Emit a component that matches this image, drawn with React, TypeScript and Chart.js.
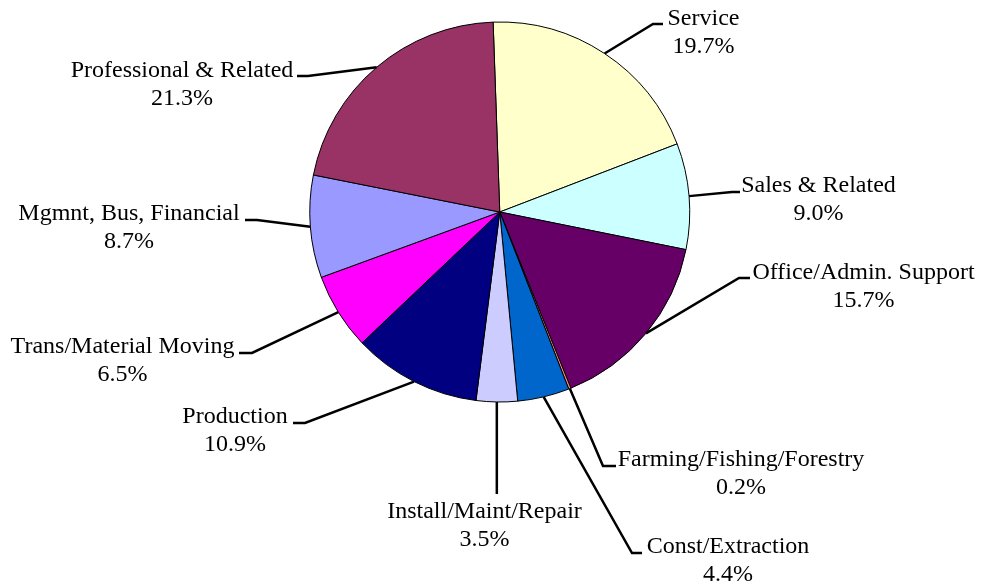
import React, { useEffect, useRef } from "react";
import { Chart, registerables } from "chart.js";

Chart.register(...registerables);

const categories = [
  "Service",
  "Sales & Related",
  "Office/Admin. Support",
  "Farming/Fishing/Forestry",
  "Const/Extraction",
  "Install/Maint/Repair",
  "Production",
  "Trans/Material Moving",
  "Mgmnt, Bus, Financial",
  "Professional & Related",
];
const shares = [19.7, 9.0, 15.7, 0.2, 4.4, 3.5, 10.9, 6.5, 8.7, 21.3];
const sliceColors = [
  "#FFFFCC",
  "#CCFFFF",
  "#660066",
  "#FF8080",
  "#0066CC",
  "#CCCCFF",
  "#000080",
  "#FF00FF",
  "#9999FF",
  "#993366",
];

// label placement (text centre x, first-line baseline, leader elbow)
type LabelPos = { cx: number; by: number; ly: number; ex: number | null; hx: number | null };
const labelPositions: LabelPos[] = [
  { cx: 703.5, by: 25, ly: 24, ex: 653, hx: 663 },
  { cx: 818.5, by: 192, ly: 192, ex: 732, hx: 740 },
  { cx: 863.5, by: 279, ly: 278, ex: 739, hx: 750 },
  { cx: 741, by: 466, ly: 466, ex: 603, hx: 616 },
  { cx: 728, by: 553, ly: 553, ex: 632, hx: 642 },
  { cx: 484.5, by: 518, ly: 494, ex: null, hx: null },
  { cx: 235, by: 423, ly: 423, ex: 305, hx: 293 },
  { cx: 122.5, by: 353, ly: 353, ex: 252, hx: 239 },
  { cx: 129, by: 220, ly: 220, ex: 257, hx: 245 },
  { cx: 182, by: 77, ly: 76, ex: 308, hx: 297 },
];

const FONT = '24px "Liberation Serif", "Times New Roman", serif';
const LINE_GAP = 27.5;

const labelPlugin = {
  id: "pieLabels",
  afterDatasetsDraw(chart: any) {
    const ctx = chart.ctx as CanvasRenderingContext2D;
    const meta = chart.getDatasetMeta(0);
    const data = chart.data.datasets[0].data as number[];
    ctx.save();
    meta.data.forEach((arc: any, i: number) => {
      const p = arc.getProps(["x", "y", "startAngle", "endAngle", "outerRadius"], true);
      const mid = (p.startAngle + p.endAngle) / 2;
      const sx = p.x + Math.cos(mid) * p.outerRadius;
      const sy = p.y + Math.sin(mid) * p.outerRadius;
      const lp = labelPositions[i];
      ctx.strokeStyle = "#000";
      ctx.lineWidth = 2.5;
      ctx.lineJoin = "miter";
      ctx.beginPath();
      ctx.moveTo(sx, sy);
      if (lp.ex === null) {
        ctx.lineTo(sx, lp.ly);
      } else {
        ctx.lineTo(lp.ex, lp.ly);
        ctx.lineTo(lp.hx as number, lp.ly);
      }
      ctx.stroke();
      ctx.fillStyle = "#000";
      ctx.font = FONT;
      ctx.textAlign = "center";
      ctx.textBaseline = "alphabetic";
      ctx.fillText(chart.data.labels[i], lp.cx, lp.by);
      ctx.fillText(data[i].toFixed(1) + "%", lp.cx, lp.by + LINE_GAP);
    });
    ctx.restore();
  },
};

export default function App() {
  const canvasRef = useRef<HTMLCanvasElement | null>(null);
  useEffect(() => {
    document.body.style.margin = "0";
    const canvas = canvasRef.current;
    if (!canvas) return;
    const chart = new Chart(canvas, {
      type: "pie",
      data: {
        labels: categories,
        datasets: [
          {
            data: shares,
            backgroundColor: sliceColors,
            borderColor: "#000000",
            borderWidth: 1,
          },
        ],
      },
      options: {
        responsive: false,
        animation: false,
        rotation: -2,
        layout: { padding: { left: 309, top: 21.5, right: 292.5, bottom: 185.5 } },
        plugins: {
          legend: { display: false },
          tooltip: { enabled: false },
        },
      },
      plugins: [labelPlugin],
    });
    return () => chart.destroy();
  }, []);
  return (
    <div style={{ width: 983, height: 588, background: "#fff" }}>
      <canvas ref={canvasRef} width={983} height={588} style={{ display: "block" }} />
    </div>
  );
}
